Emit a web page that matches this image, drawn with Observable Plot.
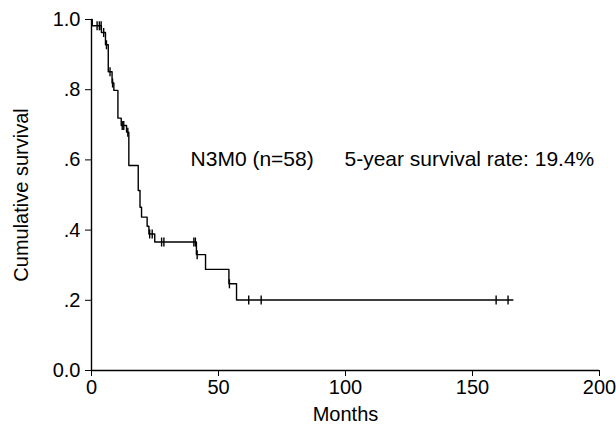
<!DOCTYPE html>
<html>
<head>
<meta charset="utf-8">
<script src="https://cdn.jsdelivr.net/npm/d3@7"></script>
<script src="https://cdn.jsdelivr.net/npm/@observablehq/plot@0.6"></script>
<style>
  html, body { margin: 0; padding: 0; background: #fff; }
  #chart svg { display: block; }
</style>
</head>
<body>
<div id="chart"></div>
<script>
// Kaplan-Meier step curve: event times (months) and survival after each step
const stepMonths   = [0, 0.3, 3.9, 5.5, 6.6, 8.1, 8.8, 10.4, 11.7, 13.8, 14.7, 18.4, 19.1, 19.7, 21.9, 22.6, 24.9, 41.3, 44.9, 54.1, 57.1, 165.9];
const stepSurvival = [1.0, 0.982, 0.963, 0.928, 0.851, 0.819, 0.798, 0.719, 0.698, 0.679, 0.584, 0.513, 0.465, 0.437, 0.411, 0.389, 0.366, 0.330, 0.288, 0.247, 0.201, 0.201];

// Censored observations (months, survival level)
const censorMonths   = [2.2, 3.1, 3.8, 4.8, 5.9, 7.3, 8.3, 12.1, 12.7, 14.3, 22.9, 23.9, 27.6, 28.5, 40.3, 40.9, 41.6, 54.3, 61.9, 66.8, 159.3, 164.0];
const censorSurvival = [0.982, 0.982, 0.982, 0.963, 0.928, 0.851, 0.819, 0.698, 0.698, 0.679, 0.389, 0.389, 0.366, 0.366, 0.366, 0.366, 0.330, 0.247, 0.201, 0.201, 0.201, 0.201];

const xTicks = [0, 50, 100, 150, 200];
const xTickLabels = ["0", "50", "100", "150", "200"];
const yTicks = [0, 0.2, 0.4, 0.6, 0.8, 1.0];
const yTickLabels = ["0.0", ".2", ".4", ".6", ".8", "1.0"];

const groupLabel = "N3M0 (n=58)";
const rateLabel = "5-year survival rate: 19.4%";

const curve = stepMonths.map((m, i) => ({month: m, surv: stepSurvival[i]}));
const censored = censorMonths.map((m, i) => ({month: m, surv: censorSurvival[i]}));

const vtick = {
  draw(context, size) {
    const r = Math.sqrt(size / Math.PI);
    context.moveTo(0, -r);
    context.lineTo(0, r);
  }
};

const chart = Plot.plot({
  width: 616,
  height: 434,
  marginLeft: 91,
  marginRight: 17,
  marginTop: 19,
  marginBottom: 64,
  style: {fontFamily: "'Liberation Sans', Arial, sans-serif", fontSize: "20px", color: "#000", background: "#fff"},
  x: {
    domain: [0, 200],
    ticks: xTicks,
    tickFormat: (d) => xTickLabels[xTicks.indexOf(d)],
    tickSize: 6,
    tickPadding: 3,
    label: "Months",
    labelAnchor: "center",
    labelArrow: "none",
    labelOffset: 50
  },
  y: {
    domain: [0, 1],
    ticks: yTicks,
    tickFormat: (d) => yTickLabels[yTicks.findIndex(t => Math.abs(t - d) < 1e-9)],
    tickSize: 6,
    tickPadding: 5,
    label: "Cumulative survival",
    labelAnchor: "center",
    labelArrow: "none",
    labelOffset: 78
  },
  marks: [
    Plot.ruleY([0], {stroke: "#000", strokeWidth: 1.4}),
    Plot.ruleX([0], {stroke: "#000", strokeWidth: 1.4}),
    Plot.line(curve, {x: "month", y: "surv", curve: "step-after", stroke: "#000", strokeWidth: 1.4}),
    Plot.dot(censored, {x: "month", y: "surv", symbol: vtick, r: 4.5, stroke: "#000", strokeWidth: 1.4, fill: "none"}),
    Plot.text([groupLabel], {x: 39, y: 0.602, text: d => d, textAnchor: "start", fontSize: 21, fill: "#000"}),
    Plot.text([rateLabel], {x: 99.6, y: 0.602, text: d => d, textAnchor: "start", fontSize: 21, fill: "#000"})
  ]
});

document.getElementById("chart").appendChild(chart);
</script>
</body>
</html>
